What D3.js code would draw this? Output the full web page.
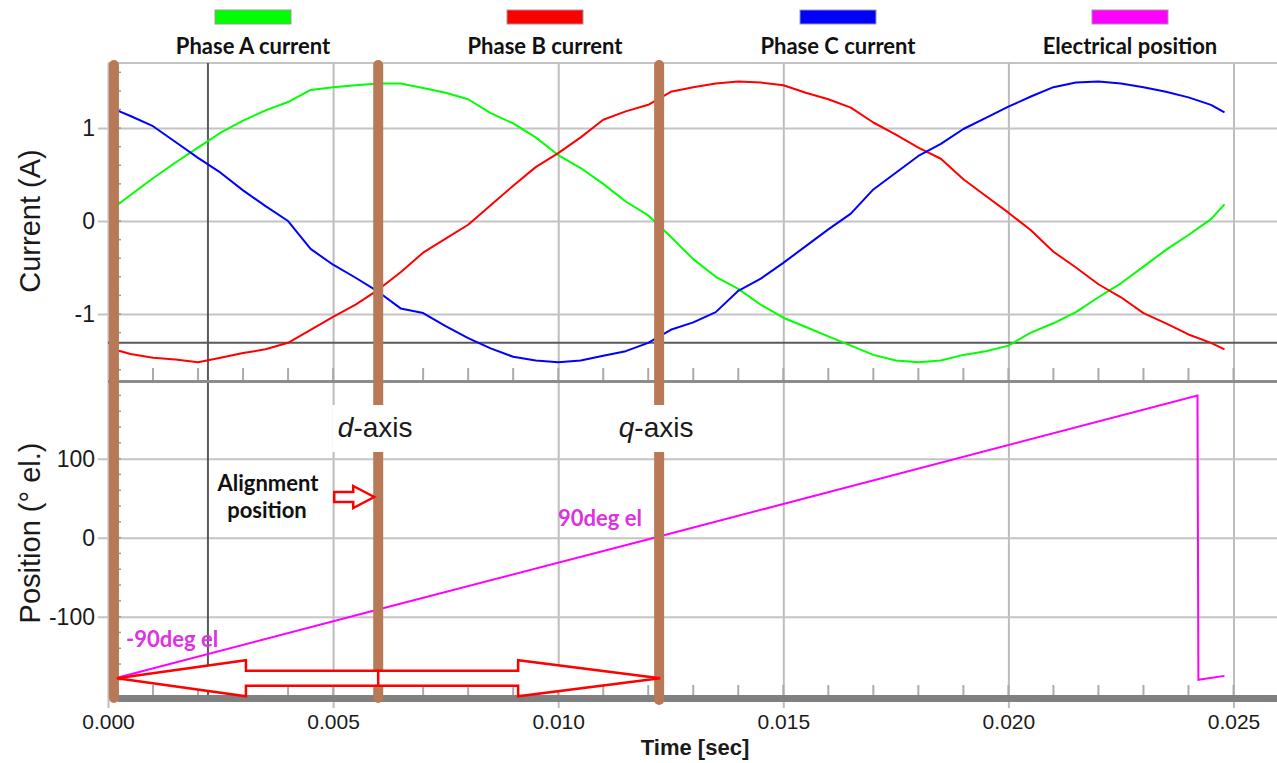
<!DOCTYPE html>
<html>
<head>
<meta charset="utf-8">
<script src="https://cdn.jsdelivr.net/npm/d3@7"></script>
<style>
  body { margin: 0; background: #fff; }
</style>
</head>
<body>
<div id="chart"></div>
<script>
// sampled time base (s) for the three phase currents
const time = [0.0002, 0.0005, 0.0010, 0.0015, 0.0020, 0.0025, 0.0030, 0.0035, 0.0040, 0.0045,
  0.0050, 0.0055, 0.0060, 0.0065, 0.0070, 0.0075, 0.0080, 0.0085, 0.0090, 0.0095,
  0.0100, 0.0105, 0.0110, 0.0115, 0.0120, 0.0125, 0.0130, 0.0135, 0.0140, 0.0145,
  0.0150, 0.0155, 0.0160, 0.0165, 0.0170, 0.0175, 0.0180, 0.0185, 0.0190, 0.0195,
  0.0200, 0.0205, 0.0210, 0.0215, 0.0220, 0.0225, 0.0230, 0.0235, 0.0240, 0.0245, 0.0248];

const phaseA = [0.17, 0.28, 0.46, 0.63, 0.79, 0.95, 1.08, 1.19, 1.28, 1.41,
  1.44, 1.46, 1.48, 1.48, 1.43, 1.38, 1.31, 1.16, 1.05, 0.90,
  0.71, 0.57, 0.40, 0.21, 0.06, -0.17, -0.41, -0.60, -0.73, -0.90,
  -1.04, -1.14, -1.24, -1.34, -1.44, -1.50, -1.52, -1.50, -1.44, -1.40,
  -1.34, -1.20, -1.10, -0.98, -0.82, -0.67, -0.49, -0.31, -0.15, 0.02, 0.18];

const phaseB = [-1.39, -1.43, -1.47, -1.49, -1.52, -1.47, -1.42, -1.38, -1.31, -1.17,
  -1.03, -0.90, -0.74, -0.55, -0.34, -0.19, -0.04, 0.17, 0.38, 0.58,
  0.73, 0.90, 1.09, 1.18, 1.25, 1.39, 1.44, 1.48, 1.50, 1.49,
  1.46, 1.38, 1.31, 1.22, 1.06, 0.93, 0.79, 0.67, 0.45, 0.27,
  0.09, -0.10, -0.33, -0.50, -0.68, -0.82, -0.99, -1.10, -1.22, -1.31, -1.38];

const phaseC = [1.19, 1.13, 1.02, 0.85, 0.68, 0.52, 0.33, 0.16, 0.00, -0.30,
  -0.47, -0.61, -0.76, -0.94, -0.99, -1.13, -1.26, -1.37, -1.46, -1.50,
  -1.52, -1.50, -1.45, -1.40, -1.31, -1.17, -1.09, -0.98, -0.75, -0.62,
  -0.45, -0.27, -0.09, 0.08, 0.34, 0.52, 0.70, 0.83, 0.99, 1.11,
  1.23, 1.34, 1.44, 1.49, 1.50, 1.48, 1.44, 1.39, 1.33, 1.25, 1.17];

// electrical position (deg el.)
const posTime = [0.00016, 0.0060, 0.01222, 0.0242, 0.02422, 0.0248];
const posValue = [-178, -91, 1, 180, -180, -175];

const legendLabels = ["Phase A current", "Phase B current", "Phase C current", "Electrical position"];
const legendColors = ["#00ff00", "#ff0000", "#0000ff", "#ff00ff"];

const xTicks = [0, 0.005, 0.010, 0.015, 0.020, 0.025];
const currentTicks = [-1, 0, 1];
const positionTicks = [-100, 0, 100];

// cursors: brown markers (start, d-axis, q-axis) and the grey crosshair
const cursorTimes = [0.00011, 0.00598, 0.01222];
const crossTime = 0.00222;
const crossCurrent = -1.31;

const svgWidth = 1277;
const svgHeight = 763;
const plotLeft = 108;
const plotRight = 1277;
const topTop = 63, topBottom = 380;
const botTop = 382, botBottom = 698;

const svg = d3.select("#chart")
  .append("svg")
  .attr("width", svgWidth)
  .attr("height", svgHeight)
  .style("font-family", "'Liberation Sans', Arial, sans-serif");

svg.append("rect").attr("width", svgWidth).attr("height", svgHeight).attr("fill", "#fff");

const x = d3.scaleLinear().domain([0, 0.025]).range([108, 1233.5]);
const yCur = d3.scaleLinear().domain([-1.71, 1.70]).range([topBottom, topTop]);
const yPos = d3.scaleLinear().domain([-203, 197]).range([botBottom, botTop]);

// top border
svg.append("line")
  .attr("x1", plotLeft).attr("x2", plotRight)
  .attr("y1", topTop).attr("y2", topTop)
  .attr("stroke", "#c4c4c4").attr("stroke-width", 2);

// vertical grid + x tick labels
svg.append("g")
  .attr("transform", `translate(0,${botBottom})`)
  .call(d3.axisBottom(x).tickValues(xTicks).tickSize(-(botBottom - topTop)).tickPadding(16).tickFormat(d3.format(".3f")))
  .call(g => g.select(".domain").remove())
  .call(g => g.selectAll("line").attr("y2", -(botBottom - topTop)).attr("y1", 10).style("stroke", "#bdbdbd").style("stroke-width", 2))
  .call(g => g.selectAll("text").style("fill", "#1a1a1a").style("font-size", "21px").style("font-family", "'Liberation Sans', Arial, sans-serif"));

// horizontal grid, current panel
svg.append("g")
  .attr("transform", `translate(${plotLeft},0)`)
  .call(d3.axisLeft(yCur).tickValues(currentTicks).tickSize(-(plotRight - plotLeft)).tickPadding(13).tickFormat(d => String(d)))
  .call(g => g.select(".domain").remove())
  .call(g => g.selectAll("line").attr("x1", -10).style("stroke", "#c4c4c4").style("stroke-width", 2))
  .call(g => g.selectAll("text").style("fill", "#1a1a1a").style("font-size", "23px").style("font-family", "'Liberation Sans', Arial, sans-serif"));

// horizontal grid, position panel
svg.append("g")
  .attr("transform", `translate(${plotLeft},0)`)
  .call(d3.axisLeft(yPos).tickValues(positionTicks).tickSize(-(plotRight - plotLeft)).tickPadding(13).tickFormat(d => String(d)))
  .call(g => g.select(".domain").remove())
  .call(g => g.selectAll("line").attr("x1", -10).style("stroke", "#c4c4c4").style("stroke-width", 2))
  .call(g => g.selectAll("text").style("fill", "#1a1a1a").style("font-size", "23px").style("font-family", "'Liberation Sans', Arial, sans-serif"));

// minor ticks
const minor = x.ticks(25).filter(t => t > 0);
svg.append("g").selectAll("line")
  .data(minor)
  .join("line")
  .attr("x1", d => x(d)).attr("x2", d => x(d))
  .attr("y1", topBottom - 12).attr("y2", topBottom)
  .attr("stroke", "#ababab").attr("stroke-width", 2);
svg.append("g").selectAll("line")
  .data(minor)
  .join("line")
  .attr("x1", d => x(d)).attr("x2", d => x(d))
  .attr("y1", botBottom - 13).attr("y2", botBottom)
  .attr("stroke", "#ababab").attr("stroke-width", 2);

svg.append("g").selectAll("line")
  .data(d3.range(-1.6, 1.7, 0.2))
  .join("line")
  .attr("x1", 117).attr("x2", 121)
  .attr("y1", d => yCur(d)).attr("y2", d => yCur(d))
  .attr("stroke", "#9a9a9a").attr("stroke-width", 1.5);
svg.append("g").selectAll("line")
  .data(d3.range(-180, 190, 20))
  .join("line")
  .attr("x1", 117).attr("x2", 121)
  .attr("y1", d => yPos(d)).attr("y2", d => yPos(d))
  .attr("stroke", "#9a9a9a").attr("stroke-width", 1.5);

// grey crosshair cursor
svg.append("line")
  .attr("x1", x(crossTime)).attr("x2", x(crossTime))
  .attr("y1", topTop).attr("y2", botBottom)
  .attr("stroke", "#5a5a5a").attr("stroke-width", 2);
svg.append("line")
  .attr("x1", plotLeft).attr("x2", plotRight)
  .attr("y1", yCur(crossCurrent)).attr("y2", yCur(crossCurrent))
  .attr("stroke", "#5a5a5a").attr("stroke-width", 2);

// panel separator + bottom axis bar
svg.append("line")
  .attr("x1", plotLeft).attr("x2", plotRight)
  .attr("y1", topBottom + 1.5).attr("y2", topBottom + 1.5)
  .attr("stroke", "#8c8c8c").attr("stroke-width", 3);
svg.append("rect")
  .attr("x", 118).attr("y", botBottom - 3)
  .attr("width", plotRight - 118).attr("height", 7)
  .attr("fill", "#808080");

// current traces
const currentLine = d3.line()
  .x((d, i) => x(time[i]))
  .y(d => yCur(d));

const series = [
  { name: legendLabels[0], values: phaseA },
  { name: legendLabels[1], values: phaseB },
  { name: legendLabels[2], values: phaseC }
];

svg.append("g").selectAll("path")
  .data(series)
  .join("path")
  .attr("fill", "none")
  .attr("stroke", (d, i) => legendColors[i])
  .attr("stroke-width", 2)
  .attr("stroke-linejoin", "round")
  .attr("d", d => currentLine(d.values));

// position trace
const posLine = d3.line()
  .x((d, i) => x(posTime[i]))
  .y(d => yPos(d));

svg.append("path")
  .attr("fill", "none")
  .attr("stroke", legendColors[3])
  .attr("stroke-width", 2)
  .attr("d", posLine(posValue));

// brown cursor bars
svg.append("g").selectAll("line")
  .data(cursorTimes)
  .join("line")
  .attr("x1", d => x(d) + 1).attr("x2", d => x(d) + 1)
  .attr("y1", topTop + 2).attr("y2", (d, i) => i === 2 ? botBottom + 2 : botBottom)
  .attr("stroke", "#b77956")
  .attr("stroke-width", 10)
  .attr("stroke-linecap", "round");

// d / q axis labels on white boxes
const axisLabels = [{ t: cursorTimes[1], letter: "d" }, { t: cursorTimes[2], letter: "q" }];
axisLabels.forEach(a => {
  const cx = x(a.t);
  svg.append("rect")
    .attr("x", cx - 45).attr("y", 405)
    .attr("width", 90).attr("height", 47)
    .attr("fill", "#fff");
  const t = svg.append("text")
    .attr("x", cx - 2).attr("y", 437)
    .attr("text-anchor", "middle")
    .attr("font-size", "28px")
    .attr("fill", "#1a1a1a");
  t.append("tspan").attr("font-style", "italic").text(a.letter);
  t.append("tspan").text("-axis");
});

// big double arrow (start -> d-axis -> q-axis)
const ay = yPos(posValue[0]);
const xl = x(cursorTimes[0]) + 4, xm = x(cursorTimes[1]) + 1, xr = x(cursorTimes[2]) + 2;
const head = 18, shaft = 7.5;
const leftArrow = [[xl, ay], [xl + 129, ay - head], [xl + 129, ay - shaft], [xm, ay - shaft],
  [xm, ay + shaft], [xl + 129, ay + shaft], [xl + 129, ay + head]];
const rightArrow = [[xr, ay], [xr - 142, ay - head], [xr - 142, ay - shaft], [xm, ay - shaft],
  [xm, ay + shaft], [xr - 142, ay + shaft], [xr - 142, ay + head]];
svg.append("g").selectAll("polygon")
  .data([leftArrow, rightArrow])
  .join("polygon")
  .attr("points", d => d.map(p => p.join(",")).join(" "))
  .attr("fill", "#fff")
  .attr("stroke", "#ff0000")
  .attr("stroke-width", 2.5)
  .attr("stroke-linejoin", "miter");

// small alignment arrow
const sy = 497, sTip = xm - 4, sTail = xm - 44;
svg.append("polygon")
  .attr("points", [[sTail, sy - 5], [sTip - 21, sy - 5], [sTip - 21, sy - 11], [sTip, sy],
    [sTip - 21, sy + 11], [sTip - 21, sy + 5], [sTail, sy + 5]].map(p => p.join(",")).join(" "))
  .attr("fill", "#fff")
  .attr("stroke", "#ff0000")
  .attr("stroke-width", 2.5);

const boldFont = "Lato, 'Open Sans', sans-serif";

svg.append("text")
  .attr("x", 268).attr("y", 491)
  .attr("text-anchor", "middle")
  .attr("font-family", boldFont).attr("font-weight", "bold").attr("font-size", "22px")
  .attr("fill", "#111")
  .text("Alignment");
svg.append("text")
  .attr("x", 267).attr("y", 518)
  .attr("text-anchor", "middle")
  .attr("font-family", boldFont).attr("font-weight", "bold").attr("font-size", "22px")
  .attr("fill", "#111")
  .text("position");

svg.append("text")
  .attr("x", 600).attr("y", 526)
  .attr("text-anchor", "middle")
  .attr("font-family", boldFont).attr("font-weight", "bold").attr("font-size", "22px")
  .attr("fill", "#dd33dd")
  .text("90deg el");
svg.append("text")
  .attr("x", 126).attr("y", 647)
  .attr("font-family", boldFont).attr("font-weight", "bold").attr("font-size", "22px")
  .attr("fill", "#dd33dd")
  .text("-90deg el");

// legend
const legendX = [253, 545, 838, 1130];
const legend = svg.append("g").selectAll("g")
  .data(legendLabels)
  .join("g")
  .attr("transform", (d, i) => `translate(${legendX[i]},0)`);
legend.append("rect")
  .attr("x", -38).attr("y", 10)
  .attr("width", 76).attr("height", 14)
  .attr("fill", (d, i) => legendColors[i])
  .attr("stroke", "#999").attr("stroke-width", 1);
legend.append("text")
  .attr("y", 54)
  .attr("text-anchor", "middle")
  .attr("font-family", boldFont).attr("font-weight", "bold").attr("font-size", "22px")
  .attr("fill", "#111")
  .text(d => d);

// axis titles
svg.append("text")
  .attr("transform", `translate(40,${yCur(0)}) rotate(-90)`)
  .attr("text-anchor", "middle")
  .attr("font-size", "29px")
  .attr("fill", "#1a1a1a")
  .text("Current (A)");
svg.append("text")
  .attr("transform", `translate(40,533) rotate(-90)`)
  .attr("text-anchor", "middle")
  .attr("font-size", "29px")
  .attr("fill", "#1a1a1a")
  .text("Position (° el.)");
svg.append("text")
  .attr("x", 695).attr("y", 755)
  .attr("text-anchor", "middle")
  .attr("font-weight", "bold")
  .attr("font-size", "22px")
  .attr("fill", "#1a1a1a")
  .text("Time [sec]");
</script>
</body>
</html>
